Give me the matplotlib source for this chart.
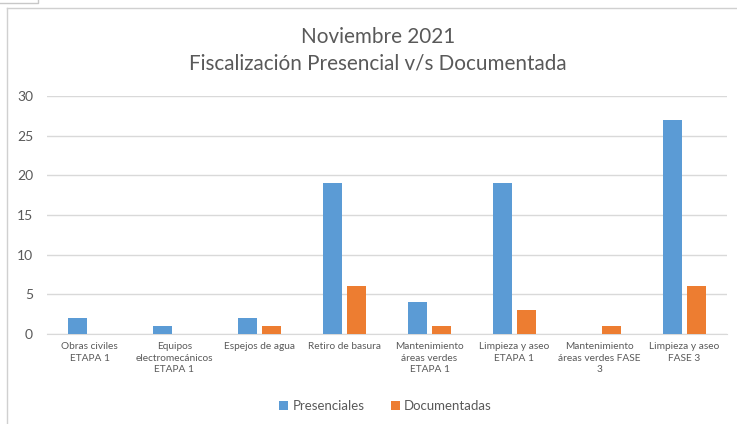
import matplotlib
matplotlib.use("Agg")
import matplotlib.pyplot as plt
import numpy as np
from matplotlib.lines import Line2D

categories = ["Obras civiles\nETAPA 1", "Equipos\nelectromecánicos\nETAPA 1", "Espejos de agua",
              "Retiro de basura", "Mantenimiento\náreas verdes\nETAPA 1", "Limpieza y aseo\nETAPA 1",
              "Mantenimiento\náreas verdes FASE\n3", "Limpieza y aseo\nFASE 3"]
presenciales = [2, 1, 2, 19, 4, 19, 0, 27]
documentadas = [0, 0, 1, 6, 1, 3, 1, 6]
yticks = [0, 5, 10, 15, 20, 25, 30]

plt.rcParams['font.family'] = ['Lato', 'DejaVu Sans']
W, H = 737, 424
fig = plt.figure(figsize=(W/100, H/100), dpi=100)
fig.patch.set_facecolor('white')

# screenshot frame
fig.add_artist(Line2D([7/W, 7/W], [0, 1-8/H], color='#D0D0D0', lw=1, transform=fig.transFigure))
fig.add_artist(Line2D([7/W, 1], [1-8/H, 1-8/H], color='#D0D0D0', lw=1, transform=fig.transFigure))
fig.add_artist(Line2D([0, 38/W, 38/W], [1-3/H, 1-3/H, 1], color='#C8C8C8', lw=1, transform=fig.transFigure))

ax = fig.add_axes([47/W, 1-334/H, 680/W, 238/H])
x = np.arange(len(categories))
w = 0.224
off = 0.145
ax.bar(x - off, presenciales, w, color='#5B9BD5', label='Presenciales', zorder=3)
ax.bar(x + off, documentadas, w, color='#ED7D31', label='Documentadas', zorder=3)
ax.set_xlim(-0.5, len(categories) - 0.5)
ax.set_ylim(0, 30)
ax.set_yticks(yticks)
ax.yaxis.grid(True, color='#D9D9D9', lw=1, zorder=0)
ax.set_axisbelow(True)
for s in ['top', 'right', 'left']:
    ax.spines[s].set_visible(False)
ax.spines['bottom'].set_color('#D9D9D9')
ax.tick_params(axis='y', length=0, pad=10, labelsize=10, labelcolor='#595959')
ax.tick_params(axis='x', length=0, pad=6)
ax.set_xticks(x)
ax.set_xticklabels(categories, fontsize=7.3, color='#595959', linespacing=1.35)

tx = 378 / W
fig.text(tx, 1-37/H, "Noviembre 2021", ha='center', va='center', fontsize=14.9, color='#595959')
fig.text(tx, 1-63/H, "Fiscalización Presencial v/s Documentada", ha='center', va='center',
         fontsize=14.9, color='#595959')

leg = fig.legend(loc='center', bbox_to_anchor=(0.523, 1-406/H), ncol=2, frameon=False,
                 fontsize=9.5, handlelength=0.7, handleheight=0.7, handletextpad=0.3,
                 columnspacing=2.0)
for t in leg.get_texts():
    t.set_color('#595959')

fig.savefig('out.png', dpi=100)
